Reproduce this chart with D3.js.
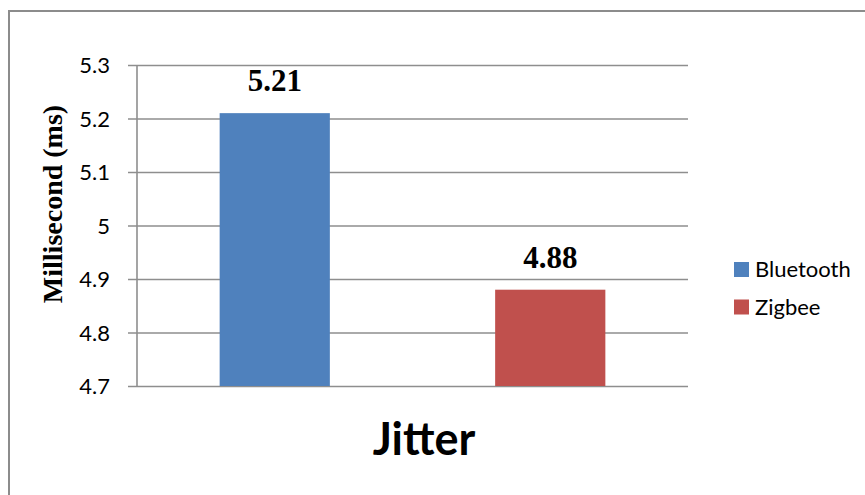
<!DOCTYPE html>
<html>
<head>
<meta charset="utf-8">
<script src="https://cdn.jsdelivr.net/npm/d3@7"></script>
<style>
  body { margin: 0; background: #fff; }
</style>
</head>
<body>
<svg id="chart" width="865" height="495"></svg>
<script>
// data
const series = ["Bluetooth", "Zigbee"];
const values = [5.21, 4.88];
const colors = ["#4f81bd", "#c0504d"];
const yTicks = [4.7, 4.8, 4.9, 5, 5.1, 5.2, 5.3];
const xTitle = "Jitter";
const yTitle = "Millisecond (ms)";

const svg = d3.select("#chart");

// outer frame (right and bottom edges run off the picture)
svg.append("rect")
  .attr("x", 9)
  .attr("y", 11)
  .attr("width", 900)
  .attr("height", 520)
  .attr("fill", "none")
  .attr("stroke", "#8c8c8c")
  .attr("stroke-width", 2);

// plot area
const plot = { left: 137, right: 688, top: 65, bottom: 386 };

const y = d3.scaleLinear()
  .domain([4.7, 5.3])
  .range([plot.bottom, plot.top]);

const x = d3.scaleBand()
  .domain(series)
  .range([plot.left, plot.right])
  .paddingInner(0.6)
  .paddingOuter(0.3);

// gridlines + tick labels
const yAxis = svg.append("g")
  .attr("transform", `translate(${plot.left},0)`)
  .call(d3.axisLeft(y)
    .tickValues(yTicks)
    .tickSize(-(plot.right - plot.left))
    .tickFormat(d3.format("")));

yAxis.select(".domain").remove();
yAxis.selectAll(".tick line")
  .attr("x1", -9)
  .attr("stroke", "#8e8e8e")
  .attr("stroke-width", 1.6);
yAxis.selectAll(".tick text")
  .attr("x", -27)
  .attr("dy", "0.35em")
  .attr("font-family", "Lato, 'Open Sans', sans-serif")
  .attr("font-size", 22)
  .attr("fill", "#000");

// vertical axis line
svg.append("line")
  .attr("x1", plot.left)
  .attr("x2", plot.left)
  .attr("y1", plot.top)
  .attr("y2", plot.bottom)
  .attr("stroke", "#8e8e8e")
  .attr("stroke-width", 1.6);

// bars
svg.append("g")
  .selectAll("rect")
  .data(series)
  .join("rect")
    .attr("x", d => x(d))
    .attr("y", (d, i) => y(values[i]))
    .attr("width", x.bandwidth())
    .attr("height", (d, i) => y(4.7) - y(values[i]))
    .attr("fill", (d, i) => colors[i]);

// value labels
svg.append("g")
  .selectAll("text")
  .data(series)
  .join("text")
    .attr("x", d => x(d) + x.bandwidth() / 2)
    .attr("y", (d, i) => y(values[i]) - 22)
    .attr("text-anchor", "middle")
    .attr("font-family", "'Liberation Serif', 'Times New Roman', serif")
    .attr("font-weight", "bold")
    .attr("font-size", 31)
    .text((d, i) => values[i]);

// axis titles
svg.append("text")
  .attr("x", 424)
  .attr("y", 455)
  .attr("text-anchor", "middle")
  .attr("font-family", "Lato, 'Open Sans', sans-serif")
  .attr("font-weight", "bold")
  .attr("font-size", 45)
  .text(xTitle);

svg.append("text")
  .attr("transform", "translate(62,204) rotate(-90)")
  .attr("text-anchor", "middle")
  .attr("font-family", "'Liberation Serif', 'Times New Roman', serif")
  .attr("font-weight", "bold")
  .attr("font-size", 28)
  .text(yTitle);

// legend
const legend = svg.append("g")
  .selectAll("g")
  .data(series)
  .join("g")
    .attr("transform", (d, i) => `translate(734,${262 + i * 37.5})`);

legend.append("rect")
  .attr("width", 15)
  .attr("height", 15)
  .attr("fill", (d, i) => colors[i]);

legend.append("text")
  .attr("x", 21)
  .attr("y", 7.5)
  .attr("dy", "0.35em")
  .attr("font-family", "Lato, 'Open Sans', sans-serif")
  .attr("font-size", 22)
  .text(d => d);
</script>
</body>
</html>
